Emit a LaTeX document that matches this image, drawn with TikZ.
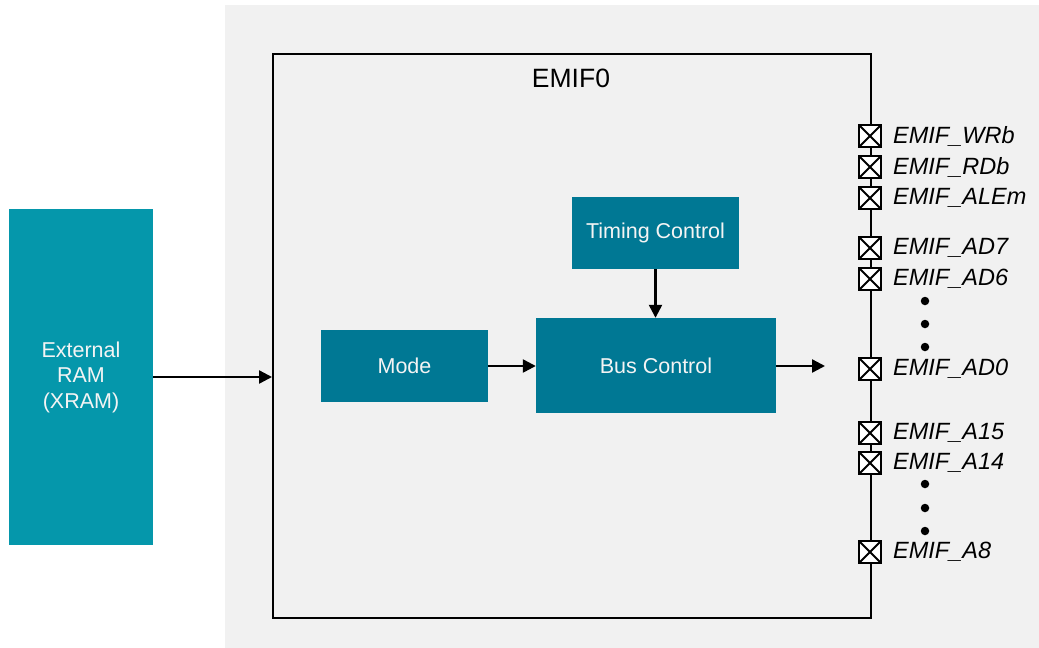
\documentclass[tikz,border=0pt]{standalone}
\usepackage{fontspec}
\setmainfont{Liberation Sans}
\usetikzlibrary{arrows.meta}
\definecolor{bggray}{HTML}{F1F1F1}
\definecolor{tealA}{HTML}{0597AB}
\definecolor{tealB}{HTML}{007894}
\definecolor{txtw}{HTML}{F4F4F4}
\tikzset{
  x=1pt, y=-1pt,
  blk/.style={fill=tealB, draw=none, text=txtw, font=\fontsize{21.5}{25.5}\selectfont, align=center, inner sep=0pt},
  conn/.style={line width=2.4pt, -{Triangle[length=13pt,width=13pt]}},
  pad/.style={draw, line width=2.4pt, fill=white, minimum size=22pt, inner sep=0pt,
    path picture={\draw[line width=1.8pt] (path picture bounding box.north west) -- (path picture bounding box.south east)
      (path picture bounding box.north east) -- (path picture bounding box.south west);}},
  plabel/.style={anchor=west, inner sep=0pt, font=\fontsize{23.5}{28}\selectfont\itshape},
  dotc/.style={circle, fill=black, inner sep=0pt, minimum size=8.5pt}
}
\begin{document}
\begin{tikzpicture}
\useasboundingbox (0,0) rectangle (1039,648);
\fill[white] (0,0) rectangle (1039,648);
\fill[bggray] (225,5) rectangle (1039,648);
% EMIF0 box
\node[draw, line width=2.4pt, minimum width=598pt, minimum height=564pt, inner sep=0pt, anchor=north west] (emif) at (272,53) {};
\node[font=\fontsize{26.5}{31}\selectfont, anchor=center] (emift) at (571,78) {EMIF0};
% blocks
\node[blk, fill=tealA, minimum width=144pt, minimum height=336pt] (xram) at (81,377) {External\\RAM\\(XRAM)};
\node[blk, minimum width=167pt, minimum height=72pt] (mode) at (404.5,366) {Mode};
\node[blk, minimum width=240pt, minimum height=95pt] (bus) at (656,365.5) {Bus Control};
\node[blk, minimum width=167pt, minimum height=72pt] (timing) at (655.5,233) {Timing Control};
% connectors
\coordinate (busout) at (825,366);
\draw[conn] (xram.east |- 0,377) -- (emif.west |- 0,377);
\draw[conn] (mode.east) -- (bus.west |- mode.east);
\draw[conn] (timing.south) -- (timing.south |- bus.north);
\draw[conn] (bus.east |- busout) -- (busout);
% pads
\foreach \n/\y/\t in {wrb/136/WRb, rdb/167/RDb, alem/198/ALEm, ad7/248/AD7, ad6/279/AD6, ad0/369/AD0, a15/433/A15, a14/463/A14, a8/552/A8}{
  \node[pad] (p\n) at (870,\y) {};
  \node[plabel] (l\n) at (893,\y) {EMIF\_\t};
}
% dots
\foreach \n/\y in {d1/301, d2/324, d3/347, d4/484, d5/508, d6/531}{
  \node[dotc] (\n) at (925,\y) {};
}
\end{tikzpicture}
\end{document}
